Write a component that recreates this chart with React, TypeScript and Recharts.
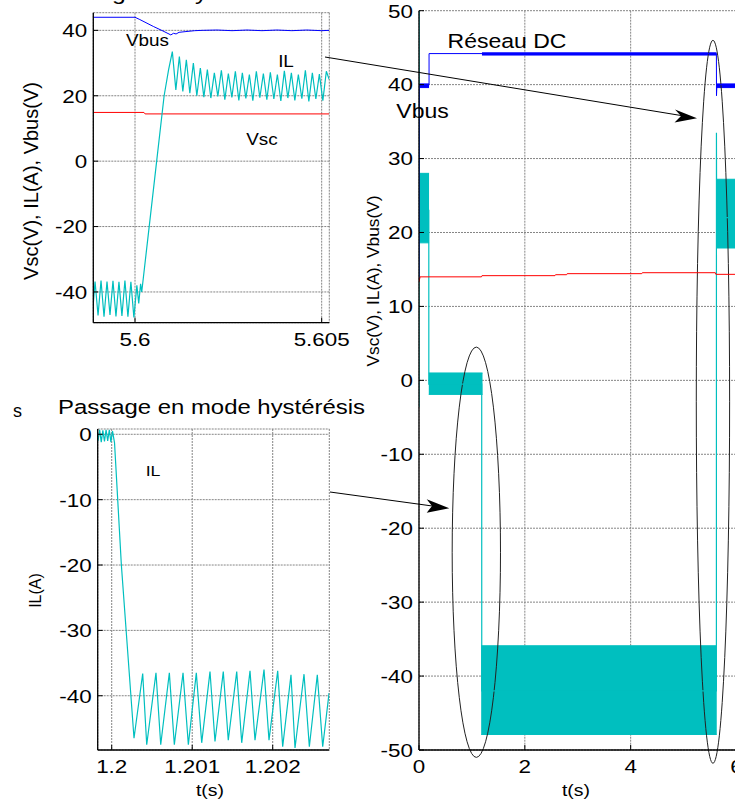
import React from "react";
import { ComposedChart, Line, Area, XAxis, YAxis, CartesianGrid, ReferenceArea } from "recharts";

const FONT = '"Liberation Sans", Arial, Helvetica, sans-serif';
const STRETCH = 1.18;
const CYAN = "#00bfbf";
const BLUE = "#0000ff";
const RED = "#ff0000";
const GRID = "#858585";

// ---- top-left zoom around t = 5.6 s
const topXTicks = [5.6, 5.605];
const topYTicks = [-40, -20, 0, 20, 40];
const ilTopT = [
  5.59888, 5.59893, 5.59901, 5.59909, 5.59917, 5.59925, 5.59933, 5.59941, 5.59949, 5.59957,
  5.59965, 5.59973, 5.59981, 5.59989, 5.59997, 5.60005, 5.6001, 5.60015,
  5.60018, 5.60038, 5.60058, 5.60078, 5.6009,
  5.601, 5.601094, 5.601188, 5.601281, 5.601375, 5.601469, 5.601563, 5.601656, 5.60175, 5.601844,
  5.601938, 5.602031, 5.602125, 5.602219, 5.602313, 5.602406, 5.6025, 5.602594, 5.602688, 5.602781,
  5.602875, 5.602969, 5.603063, 5.603156, 5.60325, 5.603344, 5.603438, 5.603531, 5.603625, 5.603719,
  5.603813, 5.603906, 5.604, 5.604094, 5.604188, 5.604281, 5.604375, 5.604469, 5.604563, 5.604656,
  5.60475, 5.604844, 5.604938, 5.605031, 5.605125, 5.6052,
];
const ilTopV = [
  -44, -36.8, -47.2, -36.5, -47.6, -36.8, -47.0, -36.6, -47.5, -36.9,
  -47.3, -36.5, -47.6, -36.9, -47.8, -38.0, -43.5, -37.5,
  -40, -20, 0, 20, 28,
  33.5, 21.8, 32.0, 21.3, 31.0, 20.8, 30.0, 20.0, 28.5, 19.6,
  28.0, 19.3, 27.0, 19.8, 27.8, 18.8, 26.8, 19.5, 27.5, 18.6,
  27.0, 19.2, 26.5, 18.5, 27.5, 19.4, 26.8, 18.8, 27.2, 19.0,
  26.5, 18.4, 27.6, 19.3, 27.0, 18.6, 26.5, 19.1, 27.8, 18.3,
  27.0, 19.0, 26.6, 18.5, 27.5, 25,
];
const vbusTopT = [
  5.59888, 5.6, 5.60013, 5.60049, 5.60075, 5.60096, 5.60103, 5.6011, 5.60118, 5.60134, 5.6016,
  5.6018, 5.6022, 5.6026, 5.603, 5.6034, 5.6038, 5.6042, 5.6046, 5.605, 5.6052,
];
const vbusTopV = [
  44, 44, 43.3, 41.2, 39.8, 38.6, 39.1, 38.9, 39.4, 39.6, 39.9,
  40.0, 40.1, 39.9, 40.1, 39.9, 40.1, 39.9, 40.1, 39.9, 40.0,
];
const vscTopT = [5.59888, 5.60024, 5.60027, 5.6052];
const vscTopV = [14.9, 14.9, 14.45, 14.45];

// ---- bottom-left zoom around t = 1.2 s
const botXTicks = [1.2, 1.201, 1.202];
const botYTicks = [-40, -30, -20, -10, 0];
const ilBotT = [
  1.19983, 1.19985, 1.19987, 1.19989, 1.19991, 1.19993, 1.19995, 1.19997, 1.19999, 1.20001,
  1.200035, 1.20012,
  1.200277, 1.200385, 1.200435, 1.20055, 1.200609, 1.200716, 1.200778, 1.200886, 1.200952, 1.201051,
  1.201118, 1.201221, 1.201283, 1.201386, 1.201448, 1.201553, 1.201615, 1.201718, 1.20178, 1.201892,
  1.201954, 1.202062, 1.202124, 1.202227, 1.202277, 1.202389, 1.202455, 1.202554, 1.202621, 1.2027,
];
const ilBotV = [
  -1.0, 0.7, -1.2, 0.6, -1.1, 0.7, -1.0, 0.7, -1.2, 0.5,
  -1.3, -20,
  -46.5, -36.6, -47.5, -36.5, -47.5, -36.5, -47.5, -36.5, -47.5, -36.5,
  -47.2, -36.3, -47.0, -36.3, -46.8, -36.3, -47.2, -36.2, -46.8, -36.0,
  -46.8, -36.2, -47.8, -36.8, -48.0, -36.7, -47.8, -36.8, -47.8, -39.6,
];

// ---- right: full run 0..6 s
const fullXTicks = [0, 2, 4, 6];
const fullYTicks = [-50, -40, -30, -20, -10, 0, 10, 20, 30, 40, 50];
const ilFullT = [0, 0.002, 0.004, 0.185, 0.186, 1.185, 1.186, 5.62, 5.621, 5.625, 6];
const ilFullV = [-3.6, 55, 23, 23, -0.5, -0.5, -42, -42, 33.5, 22, 22];
// ripple envelopes of IL (min / max)
const ilBandAT = [0.004, 0.19];
const ilBandALo = [18.6, 18.6];
const ilBandAHi = [28, 28];
const ilBandBT = [0.185, 1.2];
const ilBandBLo = [-1.9, -1.9];
const ilBandBHi = [1.0, 1.0];
const ilBandCT = [1.175, 5.627];
const ilBandCLo = [-47.9, -47.9];
const ilBandCHi = [-35.9, -35.9];
const ilBandDT = [5.615, 6];
const ilBandDLo = [17.9, 17.9];
const ilBandDHi = [27.2, 27.2];

const vbusFullT = [0, 0.003, 0.19, 0.19, 5.62, 5.622, 5.63, 6];
const vbusFullV = [13.5, 40, 40, 44.2, 44.2, 38.5, 40, 40];
const vbusRipAT = [0.003, 0.19];
const vbusRipALo = [39.6, 39.6];
const vbusRipAHi = [40.1, 40.1];
const vbusRipBT = [1.19, 5.62];
const vbusRipBLo = [44.0, 44.0];
const vbusRipBHi = [44.3, 44.3];
const vbusRipCT = [5.63, 6];
const vbusRipCLo = [39.6, 39.6];
const vbusRipCHi = [40.1, 40.1];

const vscFullT = [0, 0.02, 1.18, 1.19, 2.57, 2.58, 2.79, 2.8, 4.21, 4.22, 5.6, 5.61, 6];
const vscFullV = [13.3, 14.0, 14.0, 14.16, 14.16, 14.29, 14.29, 14.43, 14.43, 14.56, 14.56, 14.34, 14.34];

const pts = (ts: number[], vs: number[]) => ts.map((t, i) => ({ t, v: vs[i] }));
const band = (ts: number[], lo: number[], hi: number[]) => ts.map((t, i) => ({ t, v: [lo[i], hi[i]] }));

const TickBottom = (p: any) => (
  <g>
    <line x1={p.x} x2={p.x} y1={p.y} y2={p.y - 5} stroke="#000" />
    <text transform={`translate(${p.x},${p.y + 16}) scale(${STRETCH},1)`} textAnchor="middle"
      dominantBaseline="central" fontSize={19} fontFamily={FONT} fill="#000">{String(p.payload.value)}</text>
  </g>
);
const TickLeft = (p: any) => (
  <g>
    <line x1={p.x} x2={p.x + 5} y1={p.y} y2={p.y} stroke="#000" />
    <text transform={`translate(${p.x - 6},${p.y}) scale(${STRETCH},1)`} textAnchor="end"
      dominantBaseline="central" fontSize={19} fontFamily={FONT} fill="#000">{String(p.payload.value)}</text>
  </g>
);
const TickTop = (p: any) => <line x1={p.x} x2={p.x} y1={p.y} y2={p.y + 5} stroke="#000" />;
const TickRight = (p: any) => <line x1={p.x} x2={p.x - 5} y1={p.y} y2={p.y} stroke="#000" />;

const Ellipse = (p: any) => (
  <ellipse cx={p.x + p.width / 2} cy={p.y + p.height / 2} rx={Math.abs(p.width) / 2} ry={Math.abs(p.height) / 2}
    fill="none" stroke="#222" strokeWidth={1} />
);

function Axes({ xd, yd, xt, yt, xh, yw }: any) {
  return [
    <XAxis key="xb" xAxisId={0} dataKey="t" type="number" domain={xd} ticks={xt} allowDataOverflow interval={0}
      height={xh} tickSize={0} tickMargin={0} tickLine={false} axisLine={{ stroke: "#000", strokeWidth: 1.3 }} tick={TickBottom} />,
    <XAxis key="xt" xAxisId="top" orientation="top" dataKey="t" type="number" domain={xd} ticks={xt} allowDataOverflow
      interval={0} height={0} tickSize={0} tickMargin={0} tickLine={false} axisLine={{ stroke: "#000", strokeWidth: 1.3 }} tick={TickTop} />,
    <YAxis key="yl" yAxisId={0} type="number" domain={yd} ticks={yt} allowDataOverflow interval={0}
      width={yw} tickSize={0} tickMargin={0} tickLine={false} axisLine={{ stroke: "#000", strokeWidth: 1.3 }} tick={TickLeft} />,
    <YAxis key="yr" yAxisId="right" orientation="right" type="number" domain={yd} ticks={yt} allowDataOverflow
      interval={0} width={0} tickSize={0} tickMargin={0} tickLine={false} axisLine={{ stroke: "#000", strokeWidth: 1.3 }} tick={TickRight} />,
  ];
}

const gridProps = { stroke: GRID, strokeDasharray: "2 1" };

function TopLeft() {
  return (
    <div style={{ position: "absolute", left: 0, top: 0 }}>
      <ComposedChart width={365} height={360} margin={{ top: 12.7, right: 35.7, left: 0, bottom: 7.3 }}>
        <CartesianGrid {...gridProps} />
        {Axes({ xd: [5.598883, 5.605204], yd: [-49.4, 45.4], xt: topXTicks, yt: topYTicks, xh: 30, yw: 93.3 })}
        <Line data={pts(vbusTopT, vbusTopV)} dataKey="v" type="linear" stroke={BLUE} strokeWidth={1} dot={false} isAnimationActive={false} />
        <Line data={pts(vscTopT, vscTopV)} dataKey="v" type="linear" stroke={RED} strokeWidth={1} dot={false} isAnimationActive={false} />
        <Line data={pts(ilTopT, ilTopV)} dataKey="v" type="linear" stroke={CYAN} strokeWidth={1.2} dot={false} isAnimationActive={false} />
      </ComposedChart>
    </div>
  );
}

function BottomLeft() {
  return (
    <div style={{ position: "absolute", left: 0, top: 380 }}>
      <ComposedChart width={340} height={422} margin={{ top: 49, right: 10.7, left: 0, bottom: 12 }}>
        <CartesianGrid {...gridProps} />
        {Axes({ xd: [1.199826, 1.202703], yd: [-48.3, 0.81], xt: botXTicks, yt: botYTicks, xh: 40, yw: 97.7 })}
        <Line data={pts(ilBotT, ilBotV)} dataKey="v" type="linear" stroke={CYAN} strokeWidth={1.2} dot={false} isAnimationActive={false} />
      </ComposedChart>
    </div>
  );
}

function Right() {
  const area = (d: any, c: string) => (
    <Area data={d} dataKey="v" type="linear" stroke={c} fill={c} fillOpacity={1} strokeWidth={1}
      dot={false} activeDot={false} isAnimationActive={false} />
  );
  return (
    <div style={{ position: "absolute", left: 340, top: 0 }}>
      <ComposedChart width={420} height={802} margin={{ top: 10.7, right: 23.5, left: 0, bottom: 12 }}>
        <CartesianGrid {...gridProps} />
        {Axes({ xd: [0, 6], yd: [-50, 50], xt: fullXTicks, yt: fullYTicks, xh: 40, yw: 79 })}
        <Line data={pts(ilFullT, ilFullV)} dataKey="v" type="linear" stroke={CYAN} strokeWidth={1.2} dot={false} isAnimationActive={false} />
        {area(band(ilBandAT, ilBandALo, ilBandAHi), CYAN)}
        {area(band(ilBandBT, ilBandBLo, ilBandBHi), CYAN)}
        {area(band(ilBandCT, ilBandCLo, ilBandCHi), CYAN)}
        {area(band(ilBandDT, ilBandDLo, ilBandDHi), CYAN)}
        <Line data={pts(vbusFullT, vbusFullV)} dataKey="v" type="linear" stroke={BLUE} strokeWidth={1} dot={false} isAnimationActive={false} />
        {area(band(vbusRipAT, vbusRipALo, vbusRipAHi), BLUE)}
        {area(band(vbusRipBT, vbusRipBLo, vbusRipBHi), BLUE)}
        {area(band(vbusRipCT, vbusRipCLo, vbusRipCHi), BLUE)}
        <Line data={pts(vscFullT, vscFullV)} dataKey="v" type="linear" stroke={RED} strokeWidth={1} dot={false} isAnimationActive={false} />
        <ReferenceArea x1={0.627} x2={1.54} y1={-51} y2={4.5} ifOverflow="visible" shape={Ellipse} />
        <ReferenceArea x1={5.24} x2={5.87} y1={-51.8} y2={46} ifOverflow="visible" shape={Ellipse} />
      </ComposedChart>
    </div>
  );
}

const Txt = ({ x, y, size, children, anchor = "middle" }: any) => (
  <text transform={`translate(${x},${y}) scale(${STRETCH},1)`} textAnchor={anchor} dominantBaseline="central"
    fontSize={size} fontFamily={FONT} fill="#000">{children}</text>
);
const VTxt = ({ x, y, size, children }: any) => (
  <text transform={`translate(${x},${y}) rotate(-90)`} textAnchor="middle" dominantBaseline="central"
    fontSize={size} fontFamily={FONT} fill="#000">{children}</text>
);

function Overlay() {
  return (
    <svg width={735} height={802} style={{ position: "absolute", left: 0, top: 0, pointerEvents: "none" }}>
      <text x={43} y={0} fontSize={20.5} fontFamily={FONT} textLength={250} lengthAdjust="spacingAndGlyphs">Passage en hystérésis</text>
      <text x={58} y={414} fontSize={20.5} fontFamily={FONT} textLength={307} lengthAdjust="spacingAndGlyphs">Passage en mode hystérésis</text>
      <text x={13} y={417} fontSize={18} fontFamily={FONT}>s</text>
      <Txt x={147.5} y={41} size={16}>Vbus</Txt>
      <Txt x={286} y={61.5} size={16}>IL</Txt>
      <Txt x={262} y={140} size={16}>Vsc</Txt>
      <Txt x={153} y={470.5} size={15}>IL</Txt>
      <Txt x={507} y={42} size={19.5}>Réseau DC</Txt>
      <Txt x={422.5} y={112} size={19.5}>Vbus</Txt>
      <Txt x={210} y={791} size={16.5}>t(s)</Txt>
      <Txt x={576} y={791} size={16.5}>t(s)</Txt>
      <VTxt x={31} y={181} size={20}>Vsc(V), IL(A), Vbus(V)</VTxt>
      <VTxt x={373} y={281} size={17.3}>Vsc(V), IL(A), Vbus(V)</VTxt>
      <VTxt x={35.5} y={590.5} size={16}>IL(A)</VTxt>
      <line x1={325} y1={57} x2={684} y2={116} stroke="#000" strokeWidth={1} />
      <polygon points="697,118.3 675,109.5 681,116 674.5,122.5" fill="#000" />
      <line x1={330} y1={492} x2={436} y2={506.5} stroke="#000" strokeWidth={1} />
      <polygon points="449.3,508.3 426.7,499.3 432,506 426.7,512.7" fill="#000" />
    </svg>
  );
}

export default function App() {
  return (
    <div style={{ position: "fixed", left: 0, top: 0, width: 735, height: 802, overflow: "hidden", background: "#fff" }}>
      <TopLeft />
      <BottomLeft />
      <Right />
      <Overlay />
    </div>
  );
}
